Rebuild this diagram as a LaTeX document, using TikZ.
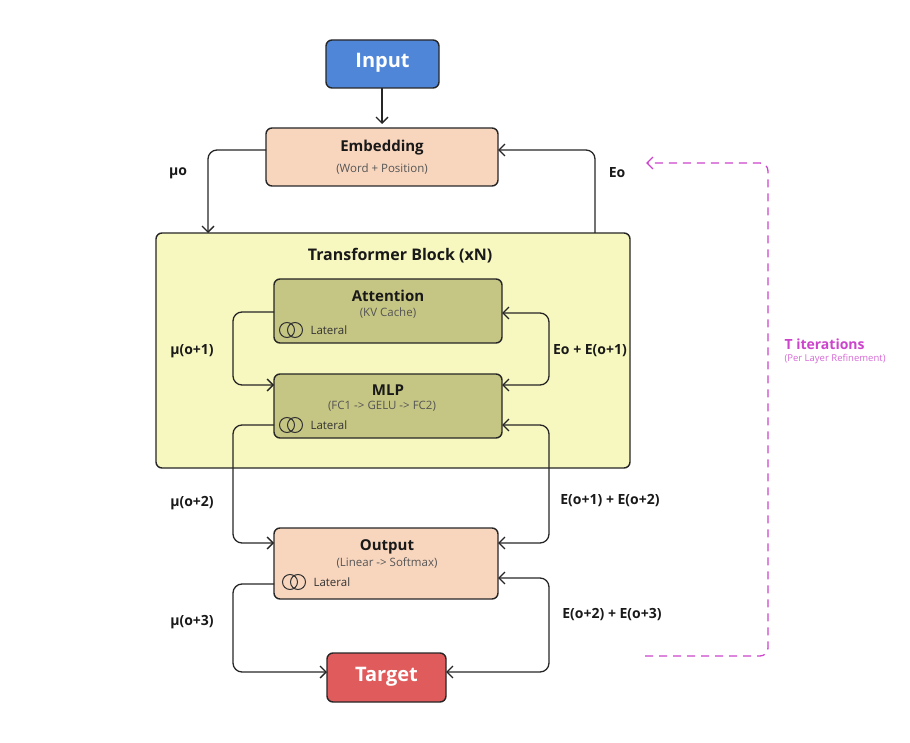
\documentclass[tikz,border=0pt]{standalone}
\usepackage{fontspec}
\setmainfont{Open Sans}
\usetikzlibrary{arrows.meta}
\definecolor{inblue}{HTML}{4F86D8}
\definecolor{peach}{HTML}{F8D6BE}
\definecolor{yel}{HTML}{F7F7C0}
\definecolor{olive}{HTML}{C5C584}
\definecolor{tred}{HTML}{E05B5B}
\definecolor{mag}{HTML}{CC44CC}
\definecolor{sub}{HTML}{555555}
\tikzset{
  box/.style={draw=black!85, line width=1.4pt, rounded corners=6pt},
  arr/.style={draw=black!85, line width=1.3pt, rounded corners=9pt, -{Straight Barb[length=6pt,width=12pt]}},
  barr/.style={draw=black!85, line width=1.3pt, rounded corners=9pt, {Straight Barb[length=6pt,width=12pt]}-{Straight Barb[length=6pt,width=12pt]}},
  lab/.style={font=\fontsize{14}{16}\selectfont\bfseries, text=black!90},
  ttl/.style={font=\fontsize{15}{17}\selectfont\bfseries, text=black!90},
  st/.style={font=\fontsize{11.5}{13}\selectfont, text=sub},
  lat/.style={font=\fontsize{11.5}{13}\selectfont, text=black!80},
}
\newcommand{\lateral}[2]{%
  \draw[black!80, line width=1pt] (#1-4,#2) circle (7.5) (#1+4,#2) circle (7.5);
  \node[lat, anchor=west] at (#1+16,#2) {Lateral};}
\begin{document}
\begin{tikzpicture}[x=1pt,y=-1pt]
\useasboundingbox (0,0) rectangle (910,743);
% boxes
\draw[box, fill=inblue] (326,40) rectangle (439,88);
\node[font=\fontsize{20}{22}\selectfont\bfseries, text=white] at (382.5,63) {Input};
\draw[box, fill=peach] (266,128) rectangle (498,186);
\node[ttl] at (382,148) {Embedding};
\node[st] at (382,169) {(Word + Position)};
\draw[box, fill=yel] (156,233) rectangle (630,468);
\node[font=\fontsize{16}{18}\selectfont\bfseries, text=black!90] at (400,256) {Transformer Block (xN)};
\draw[box, fill=olive] (274,279) rectangle (502,343);
\node[ttl] at (388,296) {Attention};
\node[st] at (388,313) {(KV Cache)};
\lateral{291}{330}
\draw[box, fill=olive] (274,374) rectangle (502,438);
\node[ttl] at (388,390) {MLP};
\node[st] at (382,406) {(FC1 -> GELU -> FC2)};
\lateral{291}{425}
\draw[box, fill=peach] (274,528) rectangle (498,599);
\node[ttl] at (387,547) {Output};
\node[st] at (387,563) {(Linear -> Softmax)};
\lateral{294}{582}
\draw[box, fill=tred] (327,653) rectangle (446,702);
\node[font=\fontsize{20}{22}\selectfont\bfseries, text=white] at (386.5,677) {Target};
% named anchors
\coordinate (inB) at (382,88); \coordinate (embT) at (382,124);
\coordinate (embL) at (266,150); \coordinate (embR) at (498,150);
\coordinate (tbT1) at (208,233); \coordinate (tbT2) at (595,233);
\coordinate (attL) at (274,312); \coordinate (attR) at (502,313);
\coordinate (mlpL1) at (274,385); \coordinate (mlpR1) at (502,385);
\coordinate (mlpL2) at (274,425); \coordinate (mlpR2) at (502,425);
\coordinate (outL1) at (274,543); \coordinate (outR1) at (498,543);
\coordinate (outL2) at (274,584); \coordinate (outR2) at (498,578);
\coordinate (tgL) at (327,672); \coordinate (tgR) at (446,672);
% connectors
\draw[arr] (inB) -- (embT);
\draw[arr] (embL) -| (tbT1);
\draw[arr] (tbT2) |- (embR);
\draw[arr] (attL) -| (233,350) |- (mlpL1);
\draw[barr] (attR) -| (549,350) |- (mlpR1);
\draw[arr] (mlpL2) -| (233,480) |- (outL1);
\draw[barr] (mlpR2) -| (549,480) |- (outR1);
\draw[arr] (outL2) -| (233,630) |- (tgL);
\draw[barr] (outR2) -| (549,630) |- (tgR);
% labels
\node[lab] at (178,173) {μo};
\node[lab] at (617,173) {Eo};
\node[lab] at (192,351) {μ(o+1)};
\node[lab] at (590,351) {Eo + E(o+1)};
\node[lab] at (192,503) {μ(o+2)};
\node[lab] at (610,501) {E(o+1) + E(o+2)};
\node[lab] at (192,622) {μ(o+3)};
\node[lab] at (612,615) {E(o+2) + E(o+3)};
% loop
\coordinate (lpS) at (645,656); \coordinate (lpE) at (646,163);
\draw[mag, line width=1.3pt, dash pattern=on 8pt off 6pt, rounded corners=8pt, -{Straight Barb[length=6pt,width=12pt]}] (lpS) -- (768,656) -- (768,163) -- (lpE);
\node[font=\fontsize{14}{16}\selectfont\bfseries, text=mag, anchor=west] at (781,344) {T iterations};
\node[font=\fontsize{9.5}{11}\selectfont, text=mag!80, anchor=west] at (781,359) {(Per Layer Refinement)};
\end{tikzpicture}
\end{document}
